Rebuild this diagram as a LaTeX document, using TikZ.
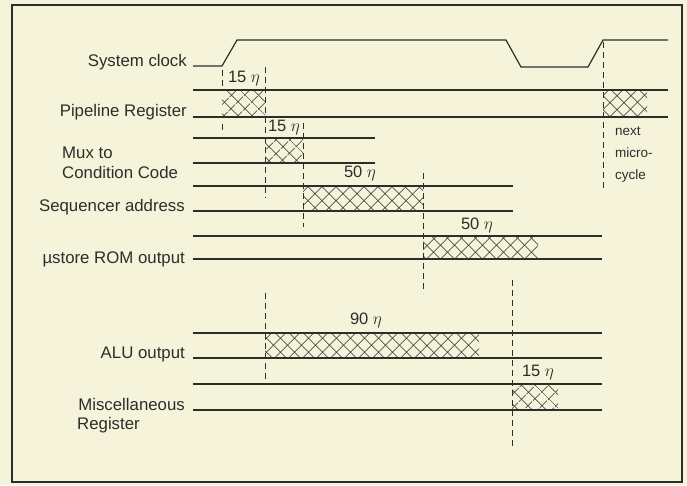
\documentclass[tikz,border=0pt]{standalone}
\usepackage{fontspec}
\setmainfont{Liberation Sans}
\usetikzlibrary{patterns.meta}
\definecolor{paper}{RGB}{245,243,218}
\definecolor{ink}{RGB}{45,45,43}
\begin{document}
\begin{tikzpicture}[x=1pt,y=-1pt,
  sig/.style={draw=ink,line width=1.2pt},
  guide/.style={draw=ink,line width=1pt,dash pattern=on 6pt off 4pt},
  hatchA/.style={pattern={Lines[angle=45,distance=10.5pt,line width=.8pt]},pattern color=ink},
  hatchB/.style={pattern={Lines[angle=-45,distance=10.5pt,line width=.8pt]},pattern color=ink},
  lbl/.style={text=ink,font=\fontsize{16.8}{19}\selectfont,inner sep=0pt,anchor=base east},
  lbll/.style={text=ink,font=\fontsize{16.8}{19}\selectfont,inner sep=0pt,anchor=base west},
  dur/.style={text=ink,font=\fontsize{16.5}{19}\selectfont,inner sep=0pt},
  note/.style={text=ink,font=\fontsize{13.5}{16}\selectfont,inner sep=0pt,anchor=base west}]
\fill[paper] (0,0) rectangle (687,485);
\useasboundingbox (0,0) rectangle (687,485);
\draw[ink,line width=1.4pt] (12,5) rectangle (682,482);

% hatched intervals
\foreach \a/\b/\c/\d in {222/90/265/117, 603/90/647/117, 265/138/303/163, 303/186/423/211,
  423/236/538/259, 265/333/479/358, 512/384/558/410}{
  \fill[hatchA] (\a,\b) rectangle (\c,\d);
  \fill[hatchB] (\a,\b) rectangle (\c,\d);
}

% system clock
\draw[sig] (193,66) -- (222,66) -- (237,40) -- (506,40) -- (521,67) -- (588,67) -- (603,40) -- (668,40);
% signal rails
\foreach \y/\e in {90/668, 117/668, 138/375, 163/375, 186/513, 211/513, 236/602, 259/602, 333/602, 358/602, 384/602, 410/602}{
  \draw[sig] (193,\y) -- (\e,\y);
}

% timing guides
\draw[guide] (222,70) -- (222,90);
\draw[guide] (222,124) -- (222,134);
\draw[guide] (265,67) -- (265,198);
\draw[guide] (265,293) -- (265,384);
\draw[guide] (303,123) -- (303,227);
\draw[guide] (423,173) -- (423,293);
\draw[guide] (512,280) -- (512,450);
\draw[guide] (603,42) -- (603,188);

% labels
\node[lbl] (clk) at (187,66) {System clock};
\node[lbl] (pipe) at (187,116) {Pipeline Register};
\node[lbll] (mux1) at (62,158) {Mux to};
\node[lbll] (mux2) at (62,178) {Condition Code};
\node[lbl] (seq) at (185,211) {Sequencer address};
\node[lbl] (rom) at (185,263) {µstore ROM output};
\node[lbl] (alu) at (185,358) {ALU output};
\node[lbl] (misc1) at (185,410) {Miscellaneous};
\node[lbll] (misc2) at (77,429) {Register};

% durations
\node[dur] (d1) at (244,79) {15 $\eta$};
\node[dur] (d2) at (284,128) {15 $\eta$};
\node[dur] (d3) at (360,173) {50 $\eta$};
\node[dur] (d4) at (477,225) {50 $\eta$};
\node[dur] (d5) at (366,320) {90 $\eta$};
\node[dur] (d6) at (538,372) {15 $\eta$};

% next microcycle
\node[note] (n1) at (615,135) {next};
\node[note] (n2) at (615,157) {micro-};
\node[note] (n3) at (615,179) {cycle};
\end{tikzpicture}
\end{document}
